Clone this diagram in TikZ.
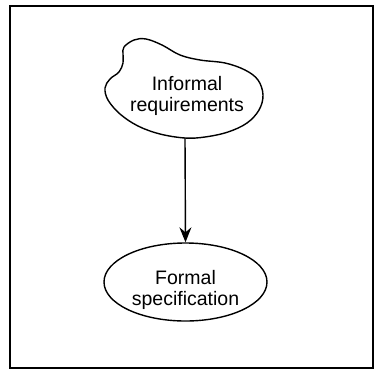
\documentclass[tikz,border=0pt]{standalone}
\usepackage{fontspec}
\setmainfont{Liberation Sans}
\usetikzlibrary{arrows.meta,shapes.geometric}
\begin{document}
\begin{tikzpicture}[x=1pt,y=-1pt,
  lbl/.style={align=center,font=\fontsize{19.5}{21.5}\selectfont,inner sep=0pt},
  outline/.style={line width=1.4pt},
  frame/.style={line width=2pt}]
\useasboundingbox (0,0) rectangle (374,370);
\draw[frame] (9.5,5.5) rectangle (372.5,367.5);
% blob
\draw[outline] plot[smooth cycle,tension=0.6] coordinates {
 (124,47) (134,40) (146,39) (162,45) (180,55) (200,60) (225,63) (245,70)
 (258,80) (263,95) (259,110) (247,123) (228,132) (205,137) (185,138)
 (160,134) (138,126) (120,114) (108,100) (105,88) (110,79) (119,72)
 (123,63) (123,54)};
\node[lbl] (inf) at (187,96) {Informal\\requirements};
\coordinate (infb) at (185,138);
\node[draw,ellipse,outline,minimum width=163pt,minimum height=78pt,inner sep=0pt] (spec) at (185.5,282) {};
\node[lbl] (spectxt) at (185.5,290) {Formal\\specification};
\draw[outline,-{Stealth[length=15pt,width=12pt,inset=5pt]}] (infb) -- (spec.north);
\end{tikzpicture}
\end{document}
